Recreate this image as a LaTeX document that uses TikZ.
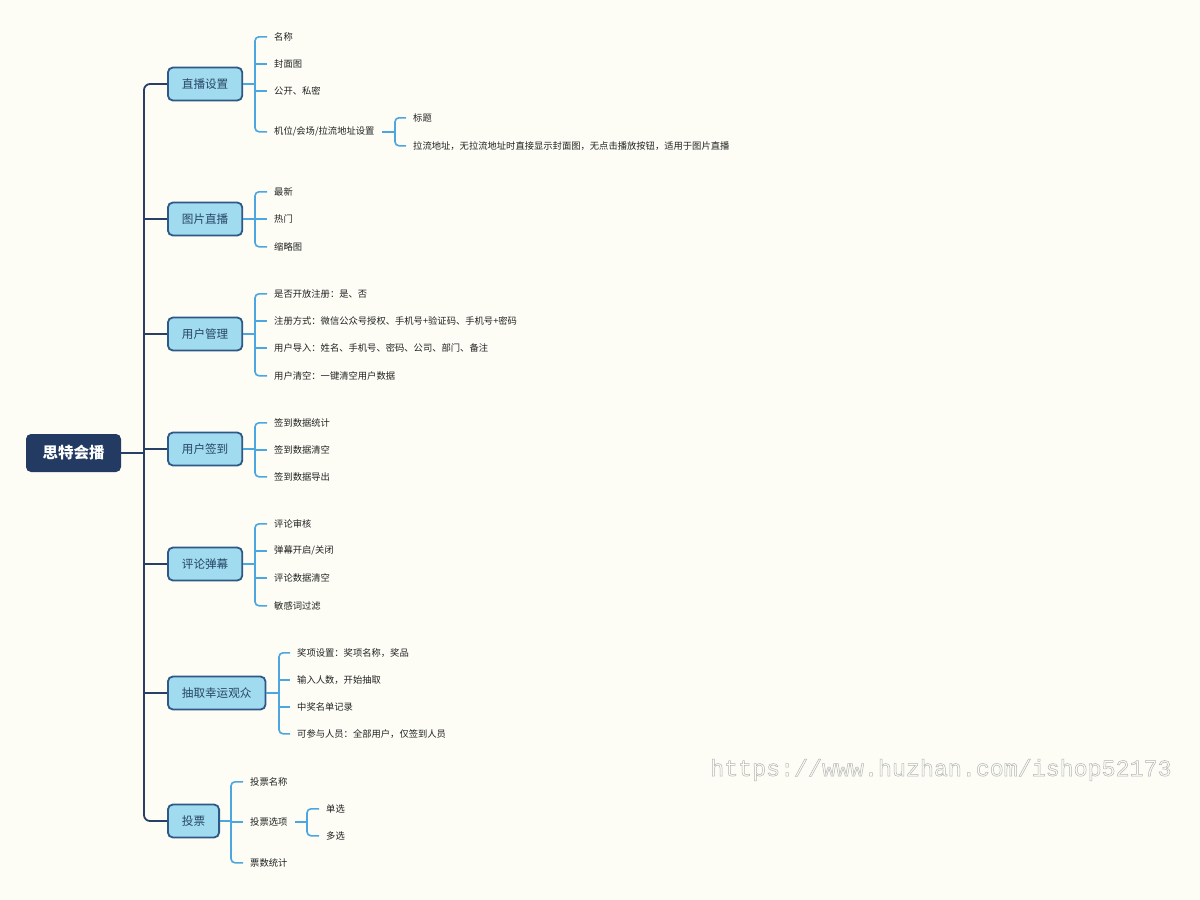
\documentclass[tikz,border=0pt]{standalone}
\usepackage{fontspec}
\setmainfont{Noto Sans CJK SC}
\newfontfamily\wmfont{Liberation Mono}
\definecolor{bg}{HTML}{FDFDF6}
\definecolor{rootc}{HTML}{233B62}
\definecolor{boxfill}{HTML}{A0DBEF}
\definecolor{boxdraw}{HTML}{2E5886}
\definecolor{boxtext}{HTML}{274565}
\definecolor{trunkc}{HTML}{2A3F66}
\definecolor{leafc}{HTML}{4CA6E0}
\definecolor{leaftext}{HTML}{222222}
\definecolor{wmc}{HTML}{B4B4B4}
\tikzset{
 rootbox/.style={fill=rootc, rounded corners=5pt, text=white, font=\fontsize{15.5}{15.5}\selectfont\bfseries, minimum width=95pt, minimum height=38pt, inner sep=0pt},
 mainbox/.style={fill=boxfill, draw=boxdraw, line width=1.8pt, rounded corners=5pt, text=boxtext, font=\fontsize{11.6}{11.6}\selectfont, minimum height=33pt, inner xsep=14pt, anchor=west},
 leaf/.style={anchor=west, inner xsep=7pt, inner ysep=2pt, yshift=-0.8pt, text=leaftext, font=\fontsize{9.3}{9.3}\selectfont},
 trunk/.style={draw=trunkc, line width=1.8pt},
 twig/.style={draw=leafc, line width=1.6pt},
 twigr/.style={twig, rounded corners=4pt},
 trunkr/.style={trunk, rounded corners=6pt},
}
\begin{document}
\begin{tikzpicture}[x=1pt,y=-1pt]
\fill[bg] (0,0) rectangle (1200,900);
\useasboundingbox (0,0) rectangle (1200,900);

% root
\node[rootbox] (root) at (73.5,453) {思特会播};

% main branches
\node[mainbox] (b1) at (167,84) {直播设置};
\node[mainbox] (b2) at (167,219) {图片直播};
\node[mainbox] (b3) at (167,334) {用户管理};
\node[mainbox] (b4) at (167,449) {用户签到};
\node[mainbox] (b5) at (167,564) {评论弹幕};
\node[mainbox] (b6) at (167,693) {抽取幸运观众};
\node[mainbox] (b7) at (167,821) {投票};

% trunk
\coordinate (t0) at (144,453);
\draw[trunk] (root.east) -- (t0);
\draw[trunkr] (t0) |- (b1.west);
\draw[trunkr] (t0) |- (b7.west);
\draw[trunk] (b2.west) -- (b2.west -| t0);
\draw[trunk] (b3.west) -- (b3.west -| t0);
\draw[trunk] (b4.west) -- (b4.west -| t0);
\draw[trunk] (b5.west) -- (b5.west -| t0);
\draw[trunk] (b6.west) -- (b6.west -| t0);

% branch 1
\node[leaf] (l11) at (267,36) {名称};
\node[leaf] (l12) at (267,63) {封面图};
\node[leaf] (l13) at (267,90) {公开、私密};
\node[leaf] (l14) at (267,131) {机位/会场/拉流地址设置};
\coordinate (j1) at (255,84);
\draw[twig] (b1.east) -- (j1);
\draw[twigr] (j1) |- (l11.west);
\draw[twigr] (j1) |- (l14.west);
\draw[twig] (l12.west) -- (l12.west -| j1);
\draw[twig] (l13.west) -- (l13.west -| j1);
% sub of l14
\node[leaf] (l141) at (406,117) {标题};
\node[leaf] (l142) at (406,145) {拉流地址，无拉流地址时直接显示封面图，无点击播放按钮，适用于图片直播};
\coordinate (j14) at (395,131);
\draw[twig] (l14.east) -- (l14.east -| j14);
\draw[twigr] (l14.east -| j14) |- (l141.west);
\draw[twigr] (l14.east -| j14) |- (l142.west);

% branch 2
\node[leaf] (l21) at (267,191) {最新};
\node[leaf] (l22) at (267,218) {热门};
\node[leaf] (l23) at (267,246) {缩略图};
\coordinate (j2) at (255,219);
\draw[twig] (b2.east) -- (j2);
\draw[twigr] (j2) |- (l21.west);
\draw[twigr] (j2) |- (l23.west);
\draw[twig] (l22.west) -- (l22.west -| j2);

% branch 3
\node[leaf] (l31) at (267,293) {是否开放注册：是、否};
\node[leaf] (l32) at (267,320) {注册方式：微信公众号授权、手机号+验证码、手机号+密码};
\node[leaf] (l33) at (267,347) {用户导入：姓名、手机号、密码、公司、部门、备注};
\node[leaf] (l34) at (267,375) {用户清空：一键清空用户数据};
\coordinate (j3) at (255,334);
\draw[twig] (b3.east) -- (j3);
\draw[twigr] (j3) |- (l31.west);
\draw[twigr] (j3) |- (l34.west);
\draw[twig] (l32.west) -- (l32.west -| j3);
\draw[twig] (l33.west) -- (l33.west -| j3);

% branch 4
\node[leaf] (l41) at (267,422) {签到数据统计};
\node[leaf] (l42) at (267,449) {签到数据清空};
\node[leaf] (l43) at (267,476) {签到数据导出};
\coordinate (j4) at (255,449);
\draw[twig] (b4.east) -- (j4);
\draw[twigr] (j4) |- (l41.west);
\draw[twigr] (j4) |- (l43.west);
\draw[twig] (l42.west) -- (l42.west -| j4);

% branch 5
\node[leaf] (l51) at (267,523) {评论审核};
\node[leaf] (l52) at (267,550) {弹幕开启/关闭};
\node[leaf] (l53) at (267,577) {评论数据清空};
\node[leaf] (l54) at (267,605) {敏感词过滤};
\coordinate (j5) at (255,564);
\draw[twig] (b5.east) -- (j5);
\draw[twigr] (j5) |- (l51.west);
\draw[twigr] (j5) |- (l54.west);
\draw[twig] (l52.west) -- (l52.west -| j5);
\draw[twig] (l53.west) -- (l53.west -| j5);

% branch 6
\node[leaf] (l61) at (290,652) {奖项设置：奖项名称，奖品};
\node[leaf] (l62) at (290,679) {输入人数，开始抽取};
\node[leaf] (l63) at (290,706) {中奖名单记录};
\node[leaf] (l64) at (290,733) {可参与人员：全部用户，仅签到人员};
\coordinate (j6) at (279,693);
\draw[twig] (b6.east) -- (j6);
\draw[twigr] (j6) |- (l61.west);
\draw[twigr] (j6) |- (l64.west);
\draw[twig] (l62.west) -- (l62.west -| j6);
\draw[twig] (l63.west) -- (l63.west -| j6);

% branch 7
\node[leaf] (l71) at (243,781) {投票名称};
\node[leaf] (l72) at (243,821) {投票选项};
\node[leaf] (l73) at (243,862) {票数统计};
\coordinate (j7) at (231,821);
\draw[twig] (b7.east) -- (j7);
\draw[twigr] (j7) |- (l71.west);
\draw[twigr] (j7) |- (l73.west);
\draw[twig] (l72.west) -- (l72.west -| j7);
\node[leaf] (l721) at (319,808) {单选};
\node[leaf] (l722) at (319,835) {多选};
\coordinate (j72) at (307,821);
\draw[twig] (l72.east) -- (l72.east -| j72);
\draw[twigr] (l72.east -| j72) |- (l721.west);
\draw[twigr] (l72.east -| j72) |- (l722.west);

% watermark
\node[anchor=west, inner sep=0pt, text=wmc, font=\wmfont\fontsize{23.3}{23.3}\selectfont] (wm) at (710,770) {\special{pdf:literal 1 Tr 0.5 w}https://www.huzhan.com/ishop52173\special{pdf:literal 0 Tr}};
\end{tikzpicture}
\end{document}
